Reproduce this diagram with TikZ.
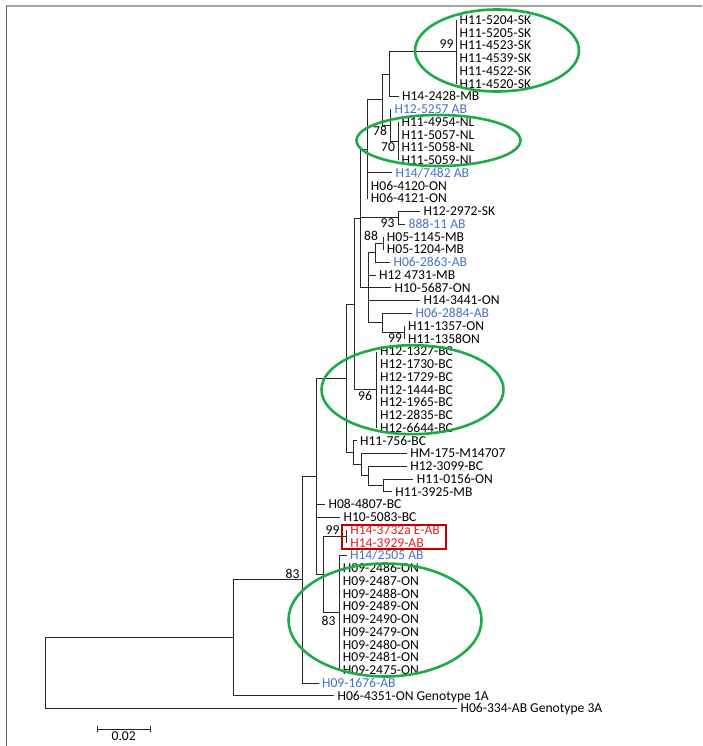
\documentclass[tikz,border=0pt]{standalone}
\usepackage{fontspec}
\setmainfont{Carlito}
\usepackage{xcolor}
\usepackage{tikz}
\usetikzlibrary{arrows.meta,positioning,calc}
\definecolor{abblue}{RGB}{68,114,196}
\definecolor{abred}{RGB}{235,28,36}
\definecolor{boxred}{RGB}{192,0,0}
\definecolor{ringgreen}{RGB}{30,170,70}
\definecolor{frametop}{RGB}{160,166,166}
\definecolor{frameleft}{RGB}{88,100,112}
\tikzset{
  br/.style   ={line width=1pt,black!85},
  leaf/.style ={anchor=west,inner xsep=3.4pt,inner ysep=0pt,text height=8.8pt,text depth=0pt},
  ab/.style   ={leaf,text=abblue},
  hot/.style  ={leaf,text=abred},
  bs/.style   ={inner sep=0pt,text height=8.8pt,text depth=0pt},
  ring/.style ={ringgreen,line width=2.6pt},
}

\begin{document}
\begin{tikzpicture}[x=1pt,y=-1pt,font=\fontsize{13.6}{14}\selectfont]
  \useasboundingbox (0,0) rectangle (702,746);
  % frame
  \draw[frametop,line width=2pt] (6,6.5) -- (702,6.5);
  \draw[frameleft,line width=1.5pt] (6.5,6) -- (6.5,746);

  % SK clade
  \node[leaf] (sk1) at (456,20)    {H11-5204-SK};
  \node[leaf] (sk2) at (456,32.75) {H11-5205-SK};
  \node[leaf] (sk3) at (456,45.5)  {H11-4523-SK};
  \node[leaf] (sk4) at (456,58.25) {H11-4539-SK};
  \node[leaf] (sk5) at (456,71)    {H11-4522-SK};
  \node[leaf] (sk6) at (456,83.75) {H11-4520-SK};
  \node[leaf] (mb1) at (398.5,96.5) {H14-2428-MB};
  % NL clade
  \node[ab]   (ab1) at (391,109.25) {H12-5257 AB};
  \node[leaf] (nl1) at (398,122)    {H11-4954-NL};
  \node[leaf] (nl2) at (398,134.75) {H11-5057-NL};
  \node[leaf] (nl3) at (398,147.5)  {H11-5058-NL};
  \node[leaf] (nl4) at (398,160.25) {H11-5059-NL};
  \node[ab]   (ab2) at (392,173)    {H14/7482 AB};
  \node[leaf] (on1) at (367.3,185.75) {H06-4120-ON};
  \node[leaf] (on2) at (367.3,198.5)  {H06-4121-ON};
  % middle group
  \node[leaf] (sk7) at (420,211.25)   {H12-2972-SK};
  \node[ab]   (ab3) at (405,224)      {888-11 AB};
  \node[leaf] (mb2) at (383.3,236.75) {H05-1145-MB};
  \node[leaf] (mb3) at (383.3,249.5)  {H05-1204-MB};
  \node[ab]   (ab4) at (390,262.25)   {H06-2863-AB};
  \node[leaf] (mb4) at (375.5,275)    {H12 4731-MB};
  \node[leaf] (on3) at (391,287.75)   {H10-5687-ON};
  \node[leaf] (on4) at (420,300.5)    {H14-3441-ON};
  \node[ab]   (ab5) at (412,313.25)   {H06-2884-AB};
  \node[leaf] (on5) at (404.5,326)    {H11-1357-ON};
  \node[leaf] (on6) at (404.5,338.75) {H11-1358ON};
  % BC clade
  \node[leaf] (bc1) at (376.5,351.5)  {H12-1327-BC};
  \node[leaf] (bc2) at (376.5,364.25) {H12-1730-BC};
  \node[leaf] (bc3) at (376.5,377)    {H12-1729-BC};
  \node[leaf] (bc4) at (376.5,389.75) {H12-1444-BC};
  \node[leaf] (bc5) at (376.5,402.5)  {H12-1965-BC};
  \node[leaf] (bc6) at (376.5,415.25) {H12-2835-BC};
  \node[leaf] (bc7) at (376.5,428)    {H12-6644-BC};
  \node[leaf] (bc8) at (356.5,440.75) {H11-756-BC};
  \node[leaf] (hm)  at (406.7,453.5)  {HM-175-M14707};
  \node[leaf] (bc9) at (406.7,466.25) {H12-3099-BC};
  \node[leaf] (on7) at (413.3,479)    {H11-0156-ON};
  \node[leaf] (mb5) at (391.7,491.75) {H11-3925-MB};
  \node[leaf] (bc10) at (325,504.5)   {H08-4807-BC};
  \node[leaf] (bc11) at (340,517.25)  {H10-5083-BC};
  % outbreak strains
  \node[hot]  (rd1) at (346.7,530)    {H14-3732a E-AB};
  \node[hot]  (rd2) at (346.7,542.75) {H14-3929-AB};
  \node[ab]   (ab6) at (346.5,555.5)  {H14/2505 AB};
  % ON clade
  \node[leaf] (h1) at (339.3,568.25) {H09-2486-ON};
  \node[leaf] (h2) at (339.3,581)    {H09-2487-ON};
  \node[leaf] (h3) at (339.3,593.75) {H09-2488-ON};
  \node[leaf] (h4) at (339.3,606.5)  {H09-2489-ON};
  \node[leaf] (h5) at (339.3,619.25) {H09-2490-ON};
  \node[leaf] (h6) at (339.3,632)    {H09-2479-ON};
  \node[leaf] (h7) at (339.3,644.75) {H09-2480-ON};
  \node[leaf] (h8) at (339.3,657.5)  {H09-2481-ON};
  \node[leaf] (h9) at (339.3,670.25) {H09-2475-ON};
  \node[ab]   (ab7) at (318.5,683)   {H09-1676-AB};
  \node[leaf] (g1) at (334,695.75)   {H06-4351-ON Genotype 1A};
  \node[leaf] (g3) at (457,708.5)    {H06-334-AB Genotype 3A};

  % internal nodes
  \coordinate (sk)    at (456,51.875);
  \coordinate (nB)    at (389,74.19);
  \coordinate (n70)   at (398,141.125);
  \coordinate (n78)   at (390,125.19);
  \coordinate (nU)    at (382,99.69);
  \coordinate (nT)    at (367.3,149.1);
  \coordinate (n93)   at (398,217.625);
  \coordinate (n88)   at (383.3,243.125);
  \coordinate (nH05)  at (375,252.69);
  \coordinate (n99)   at (404.5,332.375);
  \coordinate (n2884) at (382.7,322.81);
  \coordinate (nS)    at (368.3,287.75);
  \coordinate (nN1)   at (360.7,218.43);
  \coordinate (nBC)   at (376.5,389.75);
  \coordinate (nQ)    at (354,304.09);
  \coordinate (n3925) at (383.3,485.375);
  \coordinate (n3099) at (368.3,475.81);
  \coordinate (nHM)   at (361,464.66);
  \coordinate (n756)  at (353.3,452.7);
  \coordinate (nP)    at (346.7,378.4);
  \coordinate (nRed)  at (346.7,536.375);
  \coordinate (nON)   at (339.3,612.875);
  \coordinate (n83)   at (323.3,574.625);
  \coordinate (nA)    at (316,476.5);
  \coordinate (nR3)   at (302.7,579.75);
  \coordinate (nR2)   at (233.3,637.75);
  \coordinate (root)  at (45,673.1);

  % branches
  \foreach \l in {sk1,sk2,sk3,sk4,sk5,sk6} \draw[br] (sk) |- (\l.west);
  \draw[br] (nB) |- (sk) (nB) |- (mb1.west);
  \foreach \l in {nl1,nl2,nl3,nl4} \draw[br] (n70) |- (\l.west);
  \draw[br] (n78) |- (ab1.west) (n78) |- (n70);
  \draw[br] (nU) |- (nB) (nU) |- (n78);
  \foreach \l in {ab2,on1,on2} \draw[br] (nT) |- (\l.west);
  \draw[br] (nT) |- (nU);
  \draw[br] (n93) |- (sk7.west) (n93) |- (ab3.west);
  \draw[br] (n88) |- (mb2.west) (n88) |- (mb3.west);
  \draw[br] (nH05) |- (n88) (nH05) |- (ab4.west);
  \draw[br] (n99) |- (on5.west) (n99) |- (on6.west);
  \draw[br] (n2884) |- (ab5.west) (n2884) |- (n99);
  \foreach \l in {mb4,on3,on4} \draw[br] (nS) |- (\l.west);
  \draw[br] (nS) |- (nH05) (nS) |- (n2884);
  \draw[br] (nN1) |- (nT) (nN1) |- (n93) (nN1) |- (nS);
  \foreach \l in {bc1,bc2,bc3,bc4,bc5,bc6,bc7} \draw[br] (nBC) |- (\l.west);
  \draw[br] (nQ) |- (nN1) (nQ) |- (nBC);
  \draw[br] (n3925) |- (on7.west) (n3925) |- (mb5.west);
  \draw[br] (n3099) |- (bc9.west) (n3099) |- (n3925);
  \draw[br] (nHM) |- (hm.west) (nHM) |- (n3099);
  \draw[br] (n756) |- (bc8.west) (n756) |- (nHM);
  \draw[br] (nP) |- (nQ) (nP) |- (n756);
  \draw[br] (nRed) |- (rd1.west) (nRed) |- (rd2.west);
  \foreach \l in {ab6,h1,h2,h3,h4,h5,h6,h7,h8,h9} \draw[br] (nON) |- (\l.west);
  \draw[br] (n83) |- (nRed) (n83) |- (nON);
  \draw[br] (nA) |- (nP) (nA) |- (bc10.west) (nA) |- (bc11.west) (nA) |- (n83);
  \draw[br] (nR3) |- (nA) (nR3) |- (ab7.west);
  \draw[br] (nR2) |- (nR3) (nR2) |- (g1.west);
  \draw[br] (root) |- (nR2) (root) |- (g3.west);

  % bootstrap values
  \node[bs] (b1)  at (446.5,44)  {99};
  \node[bs] (b2)  at (380,131)   {78};
  \node[bs] (b3)  at (388,147)   {70};
  \node[bs] (b4)  at (387.5,223.5) {93};
  \node[bs] (b5)  at (371,236)   {88};
  \node[bs] (b6)  at (395,338)   {99};
  \node[bs] (b7)  at (365,396)   {96};
  \node[bs] (b8)  at (332.5,530.5) {99};
  \node[bs] (b9)  at (328.5,621.5) {83};
  \node[bs] (b10) at (292.5,574) {83};

  % scale bar
  \coordinate (s0) at (96.7,729.3);
  \coordinate (s1) at (150.7,729.3);
  \draw[br,line width=0.8pt,{Bar[width=6pt]}-{Bar[width=6pt]}] (s0) -- (s1);
  \node[bs] (sl) at (123.7,735.6) {0.02};

  % outbreak box
  \draw[boxred,line width=2pt] (341.7,525) rectangle (445.7,549.3);

  % clade rings
  \draw[ring] (497,50.5) ellipse [x radius=82,y radius=41];
  \draw[ring] (438.5,140.5) ellipse [x radius=82,y radius=25.5];
  \draw[ring] (412.5,389.7) ellipse [x radius=91,y radius=44.5];
  \draw[ring] (385,620) ellipse [x radius=96.5,y radius=56.5];
\end{tikzpicture}
\end{document}
